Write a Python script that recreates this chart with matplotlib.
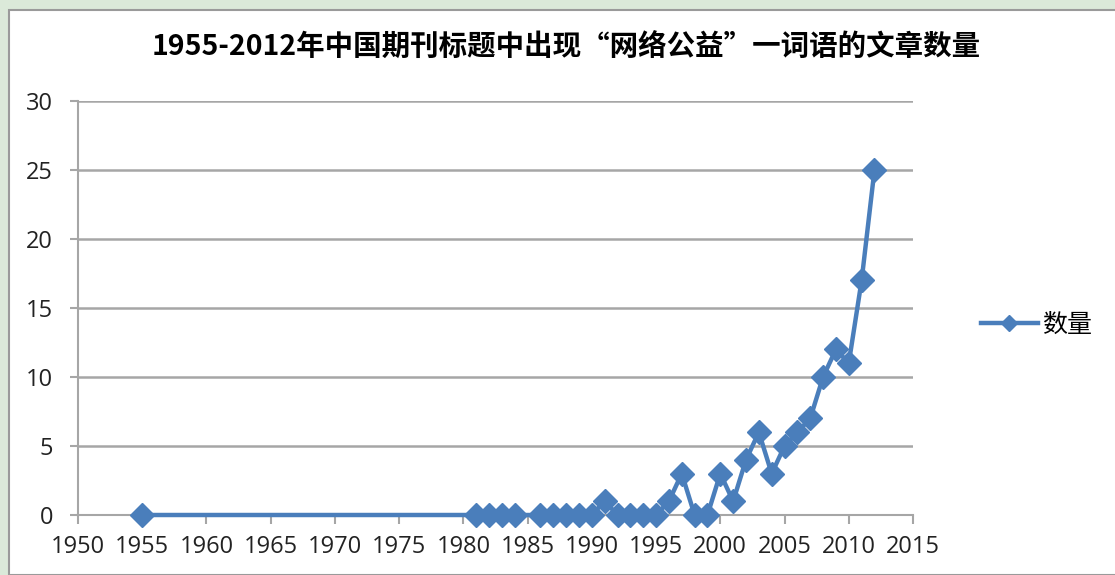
import matplotlib.pyplot as plt
from matplotlib.patches import Rectangle

plt.rcParams["font.family"] = ["Open Sans", "Noto Sans CJK SC", "DejaVu Sans"]

years = [1955, 1981, 1982, 1983, 1984, 1986, 1987, 1988, 1989, 1990, 1991,
         1992, 1993, 1994, 1995, 1996, 1997, 1998, 1999, 2000, 2001, 2002,
         2003, 2004, 2005, 2006, 2007, 2008, 2009, 2010, 2011, 2012]
counts = [0, 0, 0, 0, 0, 0, 0, 0, 0, 0, 1,
          0, 0, 0, 0, 1, 3, 0, 0, 3, 1, 4,
          6, 3, 5, 6, 7, 10, 12, 11, 17, 25]
x_ticks = list(range(1950, 2016, 5))
y_ticks = [0, 5, 10, 15, 20, 25, 30]

title = "1955-2012年中国期刊标题中出现“网络公益”一词语的文章数量"
series_name = "数量"

W, H = 1115, 575
fig = plt.figure(figsize=(W / 100, H / 100), dpi=100, facecolor="#dbe9d9")
# white chart panel behind the axes
fig.add_artist(Rectangle((9 / W, 0), 1, 1 - 10 / H, transform=fig.transFigure,
                         facecolor="white", edgecolor="#9a9a9a", linewidth=1.5,
                         zorder=-5))

ax = fig.add_axes([78 / W, 1 - 515 / H, (913 - 78) / W, (515 - 101) / H])
ax.set_facecolor("none")

line_color = "#4a7ebb"
ax.plot(years, counts, color=line_color, linewidth=3.2, marker="D",
        markersize=12, markeredgecolor=line_color, label=series_name,
        clip_on=False, zorder=3)

ax.set_xlim(1950, 2015)
ax.set_ylim(0, 30)
ax.set_xticks(x_ticks)
ax.set_yticks(y_ticks)
ax.grid(axis="y", color="#a6a6a6", linewidth=1.8)
ax.set_axisbelow(True)

for s in ["top", "right"]:
    ax.spines[s].set_visible(False)
for s in ["left", "bottom"]:
    ax.spines[s].set_color("#a6a6a6")
    ax.spines[s].set_linewidth(1.5)

ax.tick_params(axis="x", direction="out", length=6.5, width=1.5, color="#a6a6a6",
               labelsize=17, pad=8, labelcolor="#222222")
ax.tick_params(axis="y", direction="out", length=6, width=1.5, color="#a6a6a6",
               labelsize=17, pad=12, labelcolor="#222222")

fig.text(566 / W, 1 - 48 / H, title, ha="center", va="center", fontsize=20.5,
         fontweight="bold", family=["Noto Sans CJK SC", "DejaVu Sans"])

leg = fig.legend(loc="center left", bbox_to_anchor=(958 / W, 1 - 325 / H),
                 frameon=False, prop={"family": ["Noto Sans CJK SC"], "size": 18},
                 handlelength=2.3, handletextpad=0.15, markerscale=0.7)

fig.savefig("out.png", dpi=100, facecolor=fig.get_facecolor())
